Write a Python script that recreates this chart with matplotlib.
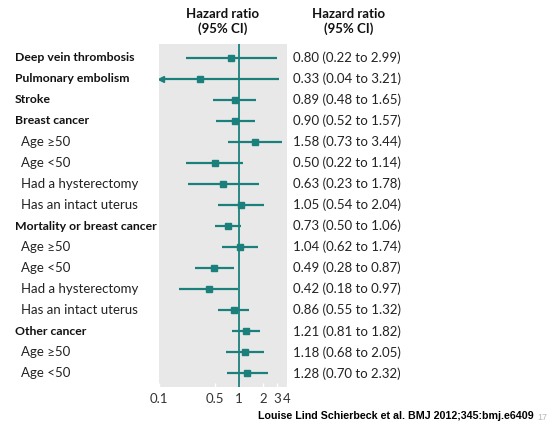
import matplotlib
matplotlib.use('Agg')
import matplotlib.pyplot as plt
import matplotlib.transforms as mtransforms

plt.rcParams['font.family'] = ['Lato', 'DejaVu Sans']

# rows of the forest plot, top to bottom
labels = ['Deep vein thrombosis', 'Pulmonary embolism', 'Stroke', 'Breast cancer',
          'Age \u226550', 'Age <50', 'Had a hysterectomy', 'Has an intact uterus',
          'Mortality or breast cancer', 'Age \u226550', 'Age <50', 'Had a hysterectomy',
          'Has an intact uterus', 'Other cancer', 'Age \u226550', 'Age <50']
is_header = [1, 1, 1, 1, 0, 0, 0, 0, 1, 0, 0, 0, 0, 1, 0, 0]
hr = [0.80, 0.33, 0.89, 0.90, 1.58, 0.50, 0.63, 1.05, 0.73, 1.04, 0.49, 0.42, 0.86, 1.21, 1.18, 1.28]
ci_lo = [0.22, 0.04, 0.48, 0.52, 0.73, 0.22, 0.23, 0.54, 0.50, 0.62, 0.28, 0.18, 0.55, 0.81, 0.68, 0.70]
ci_hi = [2.99, 3.21, 1.65, 1.57, 3.44, 1.14, 1.78, 2.04, 1.06, 1.74, 0.87, 0.97, 1.32, 1.82, 2.05, 2.32]
xticks = [0.1, 0.5, 1, 2, 3, 4]
xticklabels = ['0.1', '0.5', '1', '2', '3', '4']

teal = '#1b807c'
W, H = 550, 423

fig = plt.figure(figsize=(5.5, 4.23), dpi=100)
ax = fig.add_axes([159 / W, 1 - 387 / H, 128 / W, (387 - 44) / H])
ax.set_facecolor('#e8e8e8')
xmin, xmax = 0.1, 4
ax.set_xscale('log')
ax.set_xlim(xmin, xmax)
ax.set_ylim(15.65, -0.65)
for s in ax.spines.values():
    s.set_visible(False)
ax.set_yticks([])
ax.set_xticks(xticks)
ax.set_xticks([], minor=True)
ax.set_xticklabels(xticklabels, fontsize=9.5, color='#333333')
ax.tick_params(axis='x', direction='in', length=3, width=1, color='white', pad=4)

ax.axvline(1, color=teal, lw=1.3, zorder=2)

for i in range(len(labels)):
    left = max(ci_lo[i], xmin * 1.06)
    ax.plot([left, ci_hi[i]], [i, i], color=teal, lw=1.6, solid_capstyle='butt', zorder=3)
    if ci_lo[i] < xmin:
        ax.plot([left], [i], marker='<', ms=5, color=teal, mec=teal, zorder=3)
    ax.plot([hr[i]], [i], marker='s', ms=4, color=teal, mec=teal, zorder=4)

trans = mtransforms.blended_transform_factory(fig.transFigure, ax.transData)
for i, lab in enumerate(labels):
    if is_header[i]:
        ax.text(15 / W, i, lab, transform=trans, fontsize=8.8, fontweight='bold',
                ha='left', va='center', color='#111111')
    else:
        ax.text(21 / W, i, lab, transform=trans, fontsize=9.5,
                ha='left', va='center', color='#222222')
    ax.text(293 / W, i, '{:.2f} ({:.2f} to {:.2f})'.format(hr[i], ci_lo[i], ci_hi[i]),
            transform=trans, fontsize=9.5, ha='left', va='center', color='#222222')

for xc in (223, 349):
    fig.text(xc / W, 1 - 14 / H, 'Hazard ratio', fontsize=9.5, fontweight='bold',
             ha='center', va='center', color='#111111')
    fig.text(xc / W, 1 - 29 / H, '(95% CI)', fontsize=9.5, fontweight='bold',
             ha='center', va='center', color='#111111')

fig.text(258 / W, 1 - 415.5 / H, 'Louise Lind Schierbeck et al. BMJ 2012;345:bmj.e6409',
         family='Liberation Sans', fontsize=7.7, fontweight='bold', ha='left', va='center')
fig.text(537 / W, 1 - 417 / H, '17', family='Liberation Sans', fontsize=6.5,
         color='#b8b8b8', ha='left', va='center')

fig.savefig('out.png', dpi=100)
